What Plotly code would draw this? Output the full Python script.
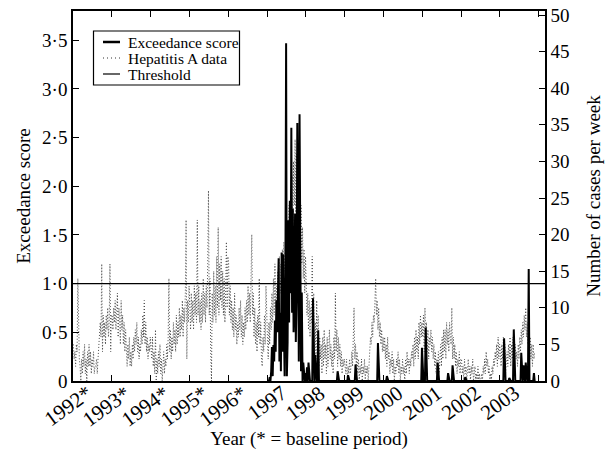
import plotly.graph_objects as go

# weekly hepatitis A case counts, one list per year (52 weeks; 2003 is partial)
hep_1992 = [5, 3, 4, 2, 5, 4, 14, 5, 3, 2, 0, 3, 1, 4, 2, 5, 1, 3, 0, 4, 2, 5, 2, 4, 1, 3,
            2, 4, 1, 2, 2, 3, 1, 3, 5, 5, 8, 6, 16, 4, 9, 6, 8, 5, 9, 7, 10, 6, 8, 16, 4, 9]
hep_1993 = [9, 7, 10, 8, 11, 7, 9, 12, 6, 10, 8, 5, 11, 7, 9, 5, 8, 4, 7, 3, 2, 5, 3, 6, 2, 4,
            2, 5, 3, 6, 4, 7, 5, 8, 4, 6, 3, 5, 4, 7, 5, 9, 6, 11, 5, 8, 4, 6, 3, 5, 4, 6]
hep_1994 = [5, 3, 6, 2, 4, 1, 7, 0, 3, 1, 4, 2, 5, 1, 3, 0, 2, 4, 1, 3, 2, 5, 3, 6, 14, 4,
            7, 3, 6, 4, 8, 5, 7, 4, 9, 5, 8, 6, 10, 6, 9, 7, 11, 6, 10, 8, 12, 22, 3, 11, 8, 13]
hep_1995 = [10, 7, 12, 8, 11, 7, 13, 9, 12, 8, 22, 9, 13, 8, 11, 7, 12, 8, 14, 9, 12, 8, 13, 10, 16, 26,
            9, 14, 4, 0, 12, 8, 15, 9, 13, 8, 17, 10, 21, 9, 16, 11, 17, 10, 15, 9, 14, 8, 12, 19, 10, 17]
hep_1996 = [16, 9, 13, 8, 11, 7, 10, 6, 12, 7, 9, 5, 8, 6, 10, 7, 11, 6, 9, 5, 8, 6, 10, 7, 11, 8,
            13, 9, 12, 8, 14, 20, 9, 12, 6, 10, 5, 8, 4, 9, 6, 14, 5, 8, 3, 2, 6, 4, 9, 5, 13, 7]
hep_1997 = [6, 3, 8, 5, 10, 7, 12, 8, 14, 9, 16, 10, 13, 9, 15, 11, 17, 12, 16, 13, 18, 14, 19, 15, 17, 22,
            16, 21, 18, 24, 19, 26, 22, 28, 21, 30, 24, 33, 23, 31, 25, 33, 22, 28, 19, 24, 16, 21, 14, 18, 12, 17]
hep_1998 = [14, 9, 12, 7, 11, 6, 10, 8, 17, 5, 12, 4, 8, 3, 11, 4, 9, 2, 6, 3, 5, 1, 6, 2, 7, 3,
            5, 1, 6, 2, 4, 7, 3, 5, 2, 4, 1, 6, 3, 12, 4, 7, 2, 6, 3, 5, 2, 4, 1, 3, 2, 3]
hep_1999 = [2, 1, 3, 0, 2, 1, 3, 1, 2, 4, 2, 6, 10, 3, 5, 2, 4, 1, 3, 0, 2, 1, 3, 0, 2, 1,
            3, 0, 2, 1, 2, 0, 3, 4, 6, 5, 8, 6, 9, 8, 12, 14, 9, 11, 7, 10, 6, 8, 5, 7, 4, 6]
hep_2000 = [4, 6, 3, 5, 2, 6, 3, 4, 1, 3, 2, 4, 1, 3, 0, 2, 1, 3, 2, 4, 1, 3, 0, 2, 1, 3,
            1, 2, 0, 3, 1, 4, 2, 3, 1, 3, 2, 4, 3, 5, 2, 6, 3, 7, 4, 6, 3, 8, 5, 9, 6, 8]
hep_2001 = [6, 9, 4, 10, 5, 8, 4, 7, 3, 6, 5, 7, 4, 6, 3, 5, 2, 4, 1, 3, 2, 4, 1, 3, 5, 2,
            6, 3, 7, 4, 7, 3, 8, 5, 7, 4, 8, 6, 5, 10, 3, 6, 3, 5, 2, 4, 1, 3, 2, 4, 1, 3]
hep_2002 = [3, 1, 2, 0, 3, 1, 2, 0, 1, 3, 1, 2, 0, 2, 1, 3, 0, 1, 2, 0, 1, 0, 2, 0, 1, 0,
            0, 1, 0, 2, 1, 3, 1, 4, 2, 3, 1, 2, 0, 1, 0, 2, 1, 3, 2, 4, 3, 5, 2, 6, 3, 5]
hep_2003 = [4, 2, 5, 3, 6, 2, 5, 1, 3, 4, 2, 5, 3, 6, 2, 5, 3, 6, 4, 2, 5, 3, 4, 2, 5, 3,
            6, 4, 7, 5, 8, 6, 9, 7, 10, 6, 8, 5, 7, 4, 6, 3, 5, 2, 5, 3, 4]

hep_years = [1992, 1993, 1994, 1995, 1996, 1997, 1998, 1999, 2000, 2001, 2002, 2003]
hep_lists = [hep_1992, hep_1993, hep_1994, hep_1995, hep_1996, hep_1997,
             hep_1998, hep_1999, hep_2000, hep_2001, hep_2002, hep_2003]

# exceedance score: full weekly list for the 1997 outbreak, isolated signals after it
exc_1997 = [0, 0, 0, 0.04, 0, 0.1, 0.35, 0.05, 0.37, 0.2, 0.62, 0.3, 0.83, 0.5, 0.9, 1.26, 0.2, 0.7,
            0.1, 1.32, 0.3, 1.3, 0.6, 0.05, 0.9, 3.47, 0.05, 0.4, 1.65, 0.6, 1.85, 0.9, 2.6, 0.7,
            1.77, 0.5, 0.8, 1.72, 0.4, 0.9, 2.65, 1.31, 0.2, 2.74, 0.6, 0.1, 0.91, 0, 0.19, 0, 0, 0.08]
spike_year = [1998, 1998, 1998, 1998, 1998, 1998, 1999, 1999, 1999, 2000, 2000, 2001, 2001,
              2001, 2001, 2001, 2002, 2003, 2003, 2003, 2003, 2003, 2003, 2003, 2003]
spike_week = [1, 3, 9, 12, 16, 42, 4, 14, 44, 4, 51, 4, 5, 20, 34, 40, 5, 5, 12, 18, 28, 31,
              34, 38, 45]
spike_value = [0.14, 0.19, 0.85, 0.27, 0.52, 0.1, 0.06, 0.17, 0.39, 0.05, 0.34, 0.55, 0.05,
               0.19, 0.08, 0.16, 0.04, 0.44, 0.03, 0.53, 0.29, 0.16, 0.19, 1.15, 0.08]

year_labels = ["1992*", "1993*", "1994*", "1995*", "1996*", "1997",
               "1998", "1999", "2000", "2001", "2002", "2003"]
threshold = 1.0

# build weekly x positions
hep_x, hep_y = [], []
for yr, vals in zip(hep_years, hep_lists):
    for w, v in enumerate(vals):
        hep_x.append(yr + (w + 0.5) / 52)
        hep_y.append(v)

exc = {}
for w, v in enumerate(exc_1997):
    exc[(1997, w)] = v
for yr, w, v in zip(spike_year, spike_week, spike_value):
    exc[(yr, w)] = v
exc_x, exc_y = [], []
for yr, vals in zip(hep_years, hep_lists):
    if yr < 1997:
        continue
    for w in range(len(vals)):
        exc_x.append(yr + (w + 0.5) / 52)
        exc_y.append(exc.get((yr, w), 0))

x_end = 2004.16
serif = "Liberation Serif, Times New Roman, serif"

fig = go.Figure()
fig.add_trace(go.Scatter(x=hep_x, y=hep_y, mode="lines", name="Hepatitis A data",
                         line=dict(color="#4a4a4a", width=1, dash="1px,2px"), yaxis="y"))
fig.add_trace(go.Scatter(x=[1992, x_end], y=[threshold, threshold], mode="lines", name="Threshold",
                         line=dict(color="black", width=1.2), yaxis="y2"))
fig.add_trace(go.Scatter(x=exc_x, y=exc_y, mode="lines", name="Exceedance score",
                         line=dict(color="black", width=2), yaxis="y2"))

# year labels sit in the middle of each year, rotated like the original
for yr, lab in zip(hep_years, year_labels):
    fig.add_annotation(x=yr + 0.5, y=0, xref="x", yref="paper", text=lab, showarrow=False,
                       textangle=-36, xanchor="right", yanchor="top", xshift=7, yshift=3,
                       font=dict(size=21))

# legend box drawn by hand so that the rows are as tight as in the original
leg_names = ["Exceedance score", "Hepatitis A data", "Threshold"]
leg_styles = [dict(color="black", width=2.5), dict(color="#333333", width=1, dash="1px,3px"),
              dict(color="black", width=1.2)]
bx0, bx1, by1 = 93.5, 239.5, 31
row_h = 16
fig.add_shape(type="rect", xref="paper", yref="paper",
              x0=(bx0 - 73) / 472, x1=(bx1 - 73) / 472,
              y0=1 - (by1 + 3 * row_h + 6 - 11) / 370, y1=1 - (by1 - 11) / 370,
              line=dict(color="black", width=1.2), fillcolor="white", layer="above")
for i, (name, style) in enumerate(zip(leg_names, leg_styles)):
    yc = 1 - (by1 + 11 + i * row_h - 11) / 370
    fig.add_shape(type="line", xref="paper", yref="paper", x0=(103 - 73) / 472, x1=(120 - 73) / 472,
                  y0=yc, y1=yc, line=style, layer="above")
    fig.add_annotation(x=(126 - 73) / 472, y=yc, xref="paper", yref="paper", text=name,
                       showarrow=False, xanchor="left", yanchor="middle", font=dict(size=15.5))

fig.update_layout(
    width=610, height=462,
    margin=dict(l=73, r=65, t=11, b=81),
    paper_bgcolor="white", plot_bgcolor="white",
    font=dict(family=serif, size=19, color="black"),
    showlegend=False,
    xaxis=dict(range=[1992, x_end], showgrid=False, zeroline=False, automargin=False,
               showline=True, linecolor="black", linewidth=1.5, mirror="ticks",
               tickmode="array", tickvals=list(range(1993, 2005)), showticklabels=False,
               ticks="inside", ticklen=6, tickcolor="black", tickwidth=1.2,
               title=dict(text="Year (* = baseline period)", standoff=50, font=dict(size=19))),
    yaxis=dict(range=[0, 50.55], side="right", showgrid=False, zeroline=False, automargin=False,
               showline=True, linecolor="black", linewidth=1.5,
               tickvals=list(range(0, 51, 5)), ticks="inside", ticklen=6, tickcolor="black",
               title=dict(text="Number of cases per week", standoff=18, font=dict(size=19))),
    yaxis2=dict(range=[0, 3.8], side="left", overlaying="y", showgrid=False, zeroline=False,
                automargin=False, showline=True, linecolor="black", linewidth=1.5,
                tickvals=[0, 0.5, 1, 1.5, 2, 2.5, 3, 3.5],
                ticktext=["0", "0·5", "1·0", "1·5", "2·0", "2·5", "3·0", "3·5"],
                ticks="inside", ticklen=6, tickcolor="black",
                title=dict(text="Exceedance score", standoff=6, font=dict(size=19))),
)

# the page body has a default 8px margin; drop it so the figure sits at the window origin
fig.write_html("out.html", config={"displayModeBar": False},
               post_script="document.body.style.margin='0px';")
